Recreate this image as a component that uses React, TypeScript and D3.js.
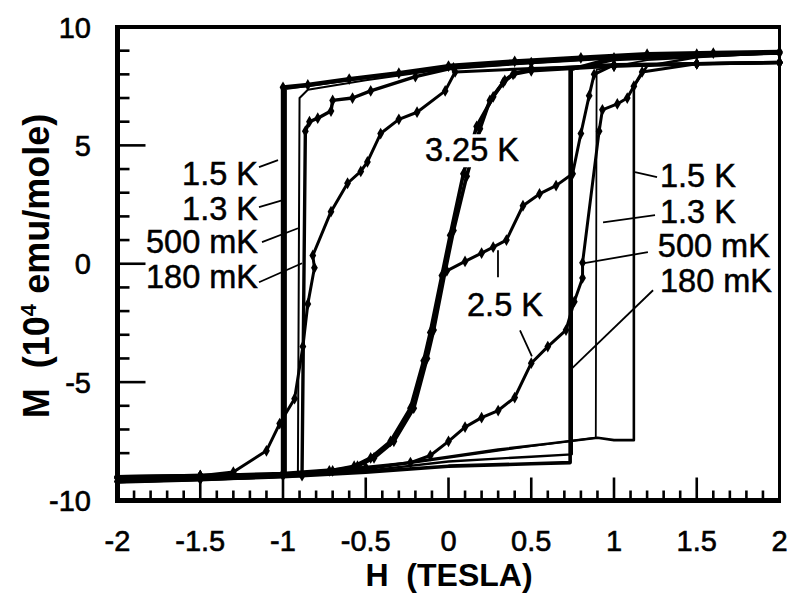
import React from 'react';
import * as d3 from 'd3';

type Pt = [number, number];

// Axis labels
const H_TICK_LABELS = [-2, -1.5, -1, -0.5, 0, 0.5, 1, 1.5, 2];
const M_TICK_LABELS = [-10, -5, 0, 5, 10];

// 1.5 K loop (H in tesla, M in 10^4 emu/mole)
const k1500Down: Pt[] = [
  [2, 8.95], [1.6, 8.9], [1.2, 8.85], [0.8, 8.7], [0.4, 8.55], [0, 8.35], [-0.3, 8.05],
  [-0.6, 7.8], [-0.85, 7.55], [-1.0, 7.45], [-1.0, -8.95], [-1.5, -9.1], [-2, -9.2],
];
const k1500Up: Pt[] = [
  [-2, -9.2], [-1.5, -9.05], [-1, -8.95], [-0.5, -8.65], [0, -8.15], [0.3, -7.85],
  [0.6, -7.6], [0.9, -7.35], [1.0, -7.45], [1.12, -7.45], [1.12, 7.5], [1.2, 8.35],
  [1.6, 8.85], [2, 8.95],
];

// 1.3 K loop
const k1300Down: Pt[] = [
  [2, 8.9], [1.5, 8.85], [1.0, 8.75], [0.5, 8.55], [0, 8.3], [-0.5, 7.85],
  [-0.985, 7.4], [-0.985, -8.95], [-1.5, -9.1], [-2, -9.2],
];
const k1300Up: Pt[] = [
  [-2, -9.2], [-1.5, -9.05], [-1, -8.95], [-0.5, -8.7], [0, -8.2], [0.5, -7.7],
  [0.89, -7.35], [0.895, 8.2], [1.2, 8.6], [2, 8.9],
];

// 500 mK loop
const k0500Down: Pt[] = [
  [2, 8.9], [1.0, 8.7], [0, 8.25], [-0.5, 7.75], [-0.85, 7.35], [-0.9, 7.0],
  [-0.91, -8.9], [-1.5, -9.05], [-2, -9.15],
];
const k0500Up: Pt[] = [
  [-2, -9.15], [-1, -8.95], [-0.5, -8.75], [0, -8.35], [0.5, -8.15], [0.745, -8.05],
  [0.745, 8.2], [1.0, 8.6], [2, 8.9],
];

// 180 mK loop
const k0180Down: Pt[] = [
  [2, 8.9], [1.5, 8.85], [1.0, 8.7], [0.5, 8.5], [0.03, 8.27], [-0.2, 7.9], [-0.47, 7.3],
  [-0.58, 7.0], [-0.7, 6.9], [-0.71, 6.45], [-0.79, 6.15], [-0.84, 6.0], [-0.865, 5.6],
  [-0.885, -8.95], [-1.5, -9.1], [-2, -9.2],
];
const k0180Up: Pt[] = [
  [-2, -9.2], [-1, -9.0], [-0.5, -8.8], [0, -8.55], [0.5, -8.45], [0.735, -8.4],
  [0.735, 8.2], [1.0, 8.7], [2, 8.9],
];

// 2.5 K loop and initial magnetization curve
const k2500Down: Pt[] = [
  [2, 8.5], [1.5, 8.45], [1.0, 8.35], [0.5, 8.25], [0.04, 8.1], [-0.02, 7.3], [-0.19, 6.4],
  [-0.3, 6.1], [-0.41, 5.5], [-0.49, 4.3], [-0.53, 3.9], [-0.61, 3.4], [-0.71, 2.2],
  [-0.82, 0.35], [-0.81, -0.17], [-0.85, -1.7], [-0.88, -3.5], [-0.93, -5.7],
  [-1.02, -6.75], [-1.1, -7.9], [-1.3, -8.8], [-1.5, -8.95], [-2, -9.05],
];
const k2500Up: Pt[] = [
  [-2, -9.05], [-1.5, -8.95], [-1, -8.85], [-0.5, -8.6], [-0.23, -8.4], [-0.11, -8.1],
  [0, -7.5], [0.1, -6.9], [0.2, -6.5], [0.3, -6.2], [0.4, -5.65], [0.5, -4.2], [0.6, -3.5],
  [0.71, -2.8], [0.76, -1.6], [0.81, -0.6], [0.81, 0.04], [0.91, 5.6], [0.93, 6.5],
  [1.02, 6.75], [1.08, 7.0], [1.12, 7.5], [1.17, 8.1], [1.5, 8.45], [2, 8.5],
];
const k2500Virgin: Pt[] = [
  [-0.01, -0.3], [0.1, 0.1], [0.2, 0.45], [0.27, 0.7], [0.35, 1.0], [0.45, 2.45],
  [0.55, 2.95], [0.65, 3.3], [0.75, 3.8], [0.8, 5.5], [0.85, 7.1], [0.88, 8.0], [1.0, 8.4],
];

// 3.25 K loop
const k3250Up: Pt[] = [
  [-2, -9.0], [-1.5, -8.95], [-1, -8.9], [-0.7, -8.75], [-0.55, -8.55], [-0.45, -8.2],
  [-0.33, -7.5], [-0.21, -6.1], [-0.13, -4.0], [-0.09, -2.8], [-0.02, -0.3], [0.03, 1.4],
  [0.11, 3.7], [0.19, 5.7], [0.25, 6.9], [0.33, 7.65], [0.39, 8.0], [0.5, 8.15],
  [1, 8.35], [1.5, 8.45], [2, 8.5],
];
const k3250Down: Pt[] = [
  [2, 8.5], [1.5, 8.45], [1, 8.4], [0.5, 8.2], [0.4, 8.05], [0.34, 7.75], [0.27, 7.05],
  [0.17, 5.8], [0.09, 3.8], [0.01, 1.2], [-0.04, -0.5], [-0.11, -2.9], [-0.15, -4.1],
  [-0.23, -6.1], [-0.35, -7.5], [-0.47, -8.2], [-0.57, -8.55], [-0.72, -8.75],
  [-1, -8.9], [-1.5, -8.95], [-2, -9.0],
];

const SERIES = [
  { id: '500mK-down', pts: k0500Down, w: 2, mark: false },
  { id: '500mK-up', pts: k0500Up, w: 2.4, mark: false },
  { id: '1.3K-down', pts: k1300Down, w: 2.8, mark: false },
  { id: '1.3K-up', pts: k1300Up, w: 1.8, mark: false },
  { id: '1.5K-down', pts: k1500Down, w: 4.4, mark: true },
  { id: '1.5K-up', pts: k1500Up, w: 2.6, mark: false },
  { id: '180mK-down', pts: k0180Down, w: 3.4, mark: true },
  { id: '180mK-up', pts: k0180Up, w: 3.6, mark: false },
  { id: '2.5K-down', pts: k2500Down, w: 3, mark: true },
  { id: '2.5K-up', pts: k2500Up, w: 3, mark: true },
  { id: '2.5K-virgin', pts: k2500Virgin, w: 3, mark: true },
  { id: '3.25K-up', pts: k3250Up, w: 3.6, mark: true },
  { id: '3.25K-down', pts: k3250Down, w: 3.6, mark: true },
];

// Curve labels: anchor (H, M) of text baseline, plus leader line ends
const LABELS: { text: string; at: Pt; anchor: 'start' | 'end'; leaders: Pt[][]; halo?: boolean }[] = [
  { text: '1.5 K', at: [-1.151, 3.32], anchor: 'end', leaders: [[[-1.145, 4.08], [-1.03, 4.38]]] },
  { text: '1.3 K', at: [-1.151, 1.84], anchor: 'end', leaders: [[[-1.145, 2.39], [-1.006, 2.68]]] },
  { text: '500 mK', at: [-1.151, 0.44], anchor: 'end', leaders: [[[-1.127, 0.91], [-0.909, 1.5]]] },
  { text: '180 mK', at: [-1.151, -1.04], anchor: 'end', leaders: [[[-1.145, -0.78], [-0.885, 0.02]]] },
  { text: '1.5 K', at: [1.278, 3.23], anchor: 'start', leaders: [[[1.127, 3.87], [1.26, 3.66]]] },
  { text: '1.3 K', at: [1.278, 1.71], anchor: 'start', leaders: [[[0.934, 1.75], [1.248, 2.05]]] },
  { text: '500 mK', at: [1.265, 0.27], anchor: 'start', leaders: [[[0.813, 0.02], [1.205, 0.49]]] },
  { text: '180 mK', at: [1.278, -1.21], anchor: 'start', leaders: [[[1.236, -1.12], [0.746, -4.42]]] },
  { text: '3.25 K', at: [-0.142, 4.33], anchor: 'start', leaders: [], halo: true },
  { text: '2.5 K', at: [0.112, -2.22], anchor: 'start', leaders: [[[0.299, -0.57], [0.299, 0.57]], [[0.432, -2.81], [0.504, -3.91]]] },
];

const W = 790;
const H = 593;
const FONT = '"Liberation Sans", Arial, Helvetica, sans-serif';

export default function App() {
  const left = 117.5, right = 779.5, top = 27, bottom = 500.5;
  const x = d3.scaleLinear().domain([-2, 2]).range([left, right]);
  const y = d3.scaleLinear().domain([-10, 10]).range([bottom, top]);
  const line = d3.line<Pt>().x((d) => x(d[0])).y((d) => y(d[1]));
  const marker = d3.symbol().type(d3.symbolDiamond).size(40)() as string;

  const hMinor = x.ticks(40);
  const mMinor = y.ticks(20);
  const isMajorH = (v: number) => Math.abs(v * 2 - Math.round(v * 2)) < 1e-6;
  const isMajorM = (v: number) => Math.abs(v / 5 - Math.round(v / 5)) < 1e-6;

  return (
    <svg width={W} height={H} style={{ position: 'absolute', left: 0, top: 0, background: '#fff' }}
      fontFamily={FONT}>
      <rect width={W} height={H} fill="#fff" />

      {/* data curves */}
      <g fill="none" stroke="#000" strokeLinejoin="round" strokeLinecap="round">
        {SERIES.map((s) => (
          <path key={s.id} d={line(s.pts) || ''} strokeWidth={s.w} />
        ))}
      </g>
      <g fill="#000">
        {SERIES.filter((s) => s.mark).map((s) =>
          s.pts.map((p, i) => (
            <path key={s.id + i} d={marker} transform={`translate(${x(p[0])},${y(p[1])})`} />
          ))
        )}
      </g>

      {/* axis ticks */}
      <g stroke="#000" strokeWidth={2.6}>
        {hMinor.filter((v) => v > -2 && v < 2).map((v) => (
          <line key={'h' + v} x1={x(v)} x2={x(v)} y1={bottom} y2={bottom - (isMajorH(v) ? 23 : 10)} />
        ))}
        {mMinor.filter((v) => v > -10 && v < 10).map((v) => (
          <line key={'m' + v} x1={left} x2={left + (isMajorM(v) ? 28 : 12)} y1={y(v)} y2={y(v)} />
        ))}
      </g>

      {/* frame */}
      <line x1={left} x2={left} y1={top - 2} y2={bottom + 2.5} stroke="#000" strokeWidth={5} />
      <line x1={left - 2.5} x2={right + 1.5} y1={bottom} y2={bottom} stroke="#000" strokeWidth={5} />
      <line x1={left - 2.5} x2={right + 1.5} y1={top} y2={top} stroke="#000" strokeWidth={4} />
      <line x1={right} x2={right} y1={top - 2} y2={bottom + 2.5} stroke="#000" strokeWidth={3} />

      {/* tick labels */}
      <g fontSize={29} fill="#000" stroke="#000" strokeWidth={0.6}>
        {H_TICK_LABELS.map((v) => (
          <text key={'hl' + v} x={x(v)} y={551} textAnchor="middle">{String(v)}</text>
        ))}
        {M_TICK_LABELS.map((v) => (
          <text key={'ml' + v} x={91} y={y(v) + 10.5} textAnchor="end">{String(v)}</text>
        ))}
      </g>

      {/* axis titles */}
      <text x={449} y={586} textAnchor="middle" fontSize={32} fontWeight="bold" fill="#000"
        style={{ whiteSpace: 'pre' }}>
        {'H  (TESLA)'}
      </text>
      <text transform="translate(49,266) rotate(-90)" textAnchor="middle" fontSize={36}
        fontWeight="bold" fill="#000" style={{ whiteSpace: 'pre' }}>
        {'M  (10'}<tspan dy={-13} fontSize={22}>4</tspan><tspan dy={13}>{' emu/mole)'}</tspan>
      </text>

      {/* curve labels */}
      <g fontSize={32.5} fill="#000">
        {LABELS.map((l, i) => {
          const tx = x(l.at[0]);
          const ty = y(l.at[1]);
          return (
            <g key={'lab' + i}>
              {l.leaders.map((seg, j) => (
                <line key={j} x1={x(seg[0][0])} y1={y(seg[0][1])} x2={x(seg[1][0])} y2={y(seg[1][1])}
                  stroke="#000" strokeWidth={1.8} />
              ))}
              {l.halo && <rect x={tx - 3} y={ty - 27} width={102} height={33} fill="#fff" />}
              <text x={tx} y={ty} textAnchor={l.anchor} stroke="#000" strokeWidth={0.5}>{l.text}</text>
            </g>
          );
        })}
      </g>
    </svg>
  );
}
